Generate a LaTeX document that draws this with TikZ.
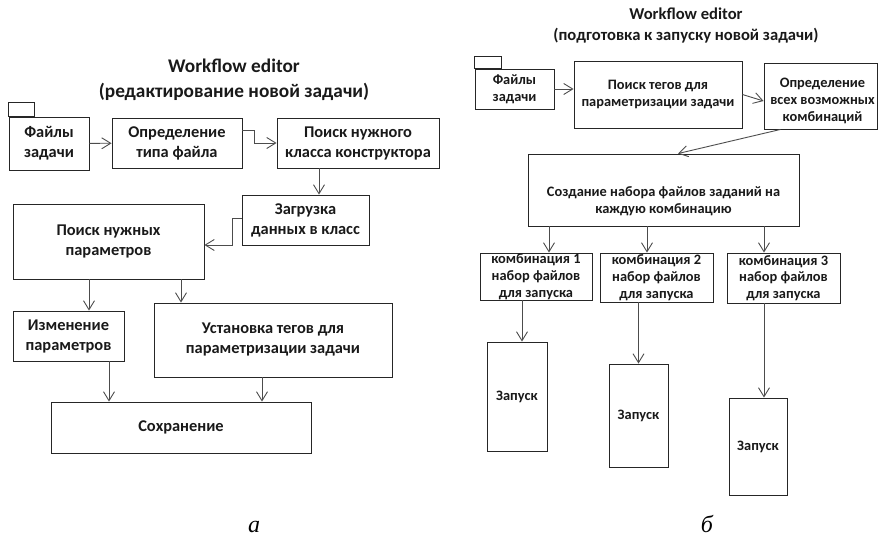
\documentclass[tikz,border=0pt]{standalone}
\usepackage{fontspec}
\setmainfont{Carlito}
\newfontfamily\capfont{Liberation Serif}
\usetikzlibrary{arrows.meta,calc}
\begin{document}
\begin{tikzpicture}[x=1pt,y=-1pt,
  box/.style={draw=black!85, line width=0.9pt, rectangle, inner sep=0pt},
  lt/.style={font=\bfseries\fontsize{16.4}{20}\selectfont, align=center, text=black!90, inner sep=0pt},
  rt/.style={font=\bfseries\fontsize{14.4}{16.8}\selectfont, align=center, text=black!90, inner sep=0pt},
  ltitle/.style={font=\bfseries\fontsize{19.3}{25}\selectfont, align=center, text=black!90, inner sep=0pt},
  rtitle/.style={font=\bfseries\fontsize{16.6}{21}\selectfont, align=center, text=black!90, inner sep=0pt},
  sub/.style={font=\capfont\itshape\fontsize{24}{24}\selectfont, inner sep=0pt, anchor=base},
  arr/.style={draw=black!70, line width=0.9pt, -{Straight Barb[length=9pt,width=11pt]}},
]
\useasboundingbox (0,0) rectangle (879,540);

% ---------- left diagram ----------
\node[ltitle] (ltit) at (234,79.5) {Workflow editor\\(редактирование новой задачи)};

\node[box, minimum width=80pt, minimum height=53pt] (lf) at (49,143.5) {};
\draw[draw=black!85, line width=0.9pt] (lf.north west) rectangle ++(26,-14);
\node[lt] (lft) at (lf) {Файлы\\задачи};

\node[box, minimum width=130pt, minimum height=50pt] (ltype) at (177,143) {};
\node[lt] (ltypet) at (ltype) {Определение\\типа файла};

\node[box, minimum width=162pt, minimum height=50pt] (lcls) at (358,143) {};
\node[lt] (lclst) at (lcls) {Поиск нужного\\класса конструктора};

\node[box, minimum width=127pt, minimum height=50pt] (lload) at (305.5,220) {};
\node[lt] (lloadt) at (lload) {Загрузка\\данных в класс};

\node[box, minimum width=191pt, minimum height=75pt] (lparam) at (108.5,241.5) {};
\node[lt] (lparamt) at (lparam) {Поиск нужных\\параметров};

\node[box, minimum width=111pt, minimum height=50pt] (lchg) at (68.5,336) {};
\node[lt] (lchgt) at (lchg) {Изменение\\параметров};

\node[box, minimum width=238pt, minimum height=74pt] (ltag) at (273,340) {};
\node[lt] (ltagt) at (ltag) {Установка тегов для\\параметризации задачи};

\node[box, minimum width=260pt, minimum height=51pt] (lsave) at (181,427.5) {};
\node[lt] (lsavet) at (lsave) {Сохранение};

\draw[arr] (lf) -- (ltype);
\draw[arr] ([yshift=13pt]ltype.east) -- ++(12,0) |- (lcls.west);
\path ([xshift=13.5pt]lload.north) coordinate (c1);
\draw[arr] (lcls.south -| c1) -- (c1);
\draw[arr] ([yshift=2pt]lload.west) -- ++(-9,0) |- ([yshift=-3.5pt]lparam.east);
\path ([xshift=20.5pt]lchg.north) coordinate (c2);
\draw[arr] (lparam.south -| c2) -- (c2);
\path ([xshift=-92pt]ltag.north) coordinate (c3);
\draw[arr] (lparam.south -| c3) -- (c3);
\path ([xshift=-72pt]lsave.north) coordinate (c4);
\draw[arr] (lchg.south -| c4) -- (c4);
\path ([xshift=81pt]lsave.north) coordinate (c5);
\draw[arr] (ltag.south -| c5) -- (c5);

\node[sub] (la) at (254,532) {а};

% ---------- right diagram ----------
\node[rtitle] (rtit) at (686,25.5) {Workflow editor\\(подготовка к запуску новой задачи)};

\node[box, minimum width=79pt, minimum height=40pt] (rf) at (514.5,89) {};
\draw[draw=black!85, line width=0.9pt] (rf.north west) rectangle ++(27,-12);
\node[rt] (rft) at (rf) {Файлы\\задачи};

\node[box, minimum width=168pt, minimum height=67pt] (rsearch) at (658,94.5) {};
\node[rt] (rsearcht) at (rsearch) {Поиск тегов для\\параметризации задачи};

\node[box, minimum width=113pt, minimum height=66pt] (rcomb) at (820.5,96) {};
\node[rt] (rcombt) at ($(rcomb)+(2,5)$) {Определение\\всех возможных\\комбинаций};

\node[box, minimum width=271pt, minimum height=72pt] (rcreate) at (663.5,190) {};
\node[rt] (rcreatet) at ($(rcreate)+(0,11)$) {Создание набора файлов заданий на\\каждую комбинацию};

\node[box, minimum width=112pt, minimum height=47pt] (rk1) at (536,276.5) {};
\node[rt] (rk1t) at (rk1) {комбинация 1\\набор файлов\\для запуска};
\node[box, minimum width=113pt, minimum height=49pt] (rk2) at (656.5,277.5) {};
\node[rt] (rk2t) at (rk2) {комбинация 2\\набор файлов\\для запуска};
\node[box, minimum width=113pt, minimum height=50pt] (rk3) at (783.5,278) {};
\node[rt] (rk3t) at (rk3) {комбинация 3\\набор файлов\\для запуска};

\node[box, minimum width=60pt, minimum height=109pt] (rz1) at (517,396.5) {};
\node[rt] (rz1t) at (rz1) {Запуск};
\node[box, minimum width=59pt, minimum height=103pt] (rz2) at (638.5,415.5) {};
\node[rt] (rz2t) at (rz2) {Запуск};
\node[box, minimum width=58pt, minimum height=97pt] (rz3) at (758,446.5) {};
\node[rt] (rz3t) at (rz3) {Запуск};

\draw[arr] (rf.east) -- (rf.east -| rsearch.west);
\draw[arr] (rsearch.east) -- ([yshift=-5pt]rcomb.west);
\draw[arr] ([xshift=-40pt]rcomb.south) -- ([xshift=14.5pt]rcreate.north);
\path ([xshift=13pt]rk1.north) coordinate (d1);
\draw[arr] (rcreate.south -| d1) -- (d1);
\path ([xshift=-9.5pt]rk2.north) coordinate (d2);
\draw[arr] (rcreate.south -| d2) -- (d2);
\path ([xshift=-19.5pt]rk3.north) coordinate (d3);
\draw[arr] (rcreate.south -| d3) -- (d3);
\path ([xshift=5pt]rz1.north) coordinate (e1);
\draw[arr] (rk1.south -| e1) -- (e1);
\path (rz2.north) coordinate (e2);
\draw[arr] (rk2.south -| e2) -- (e2);
\path ([xshift=6pt]rz3.north) coordinate (e3);
\draw[arr] (rk3.south -| e3) -- (e3);

\node[sub] (lb) at (707,532) {б};
\end{tikzpicture}
\end{document}
